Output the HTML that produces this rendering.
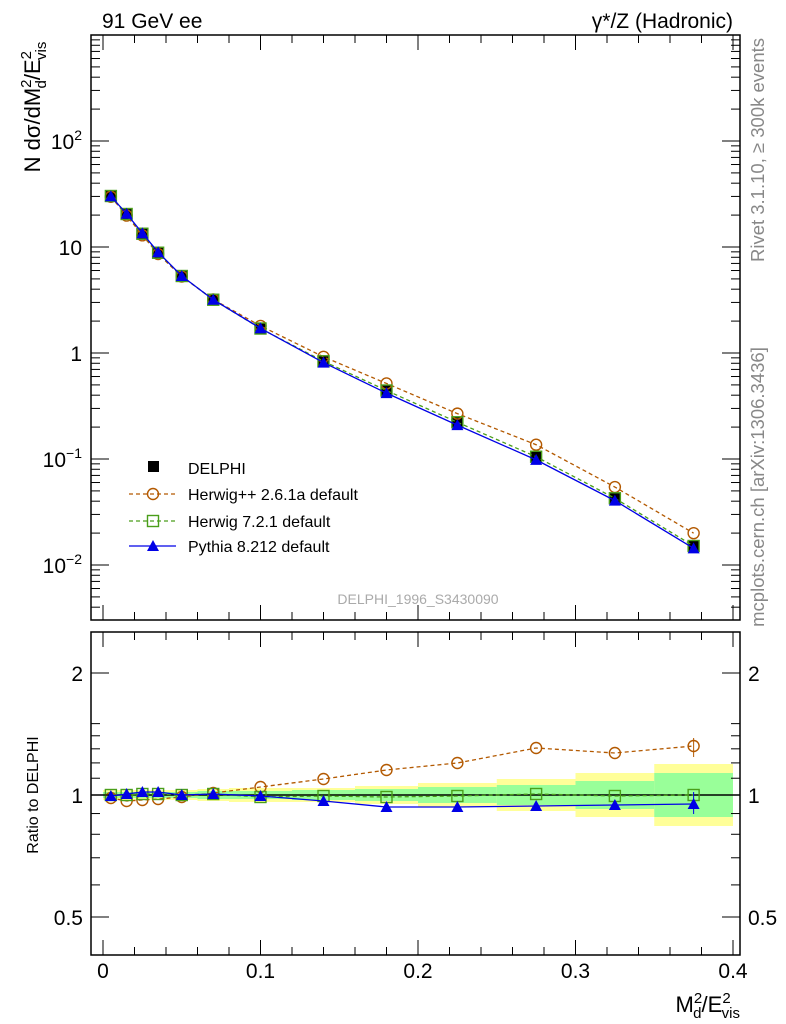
<!DOCTYPE html>
<html><head><meta charset="utf-8"><style>
body{margin:0;background:#fff}
svg{display:block;font-family:"Liberation Sans",sans-serif}
</style></head><body>
<svg id="s" width="786" height="1024" xmlns="http://www.w3.org/2000/svg"></svg>
<script>
const S=document.getElementById('s');let h='';
const L=91,R=740,T=35,B=620,RT=632,RB=955;
const X=v=>103+v*1575;
const YL=v=>353-Math.log10(v)*106;
const YR=r=>795-Math.log2(r)*122;
const bins=[[0,0.01,5,3],[0.01,0.02,5,3],[0.02,0.03,5,3],[0.03,0.04,5,3],[0.04,0.06,5,3],[0.06,0.08,6,4],[0.08,0.12,7,4],[0.12,0.16,7,5],[0.16,0.2,9,6],[0.2,0.25,12,8],[0.25,0.3,16,10],[0.3,0.35,22,14],[0.35,0.4,31,22]];
bins.forEach(b=>{h+=`<rect x="${X(b[0])}" y="${795-b[2]}" width="${X(b[1])-X(b[0])}" height="${2*b[2]}" fill="#ffff99"/>`;});
bins.forEach(b=>{h+=`<rect x="${X(b[0])}" y="${795-b[3]}" width="${X(b[1])-X(b[0])}" height="${2*b[3]}" fill="#99ff99"/>`;});
h+=`<line x1="${L}" y1="795" x2="${R}" y2="795" stroke="#000" stroke-width="1.5"/>`;
const xs=[0.005,0.015,0.025,0.035,0.05,0.07,0.1,0.14,0.18,0.225,0.275,0.325,0.375];
const dy=[196,214,234,253,276,300,328,361,390,422,457,498,546];
const hpp=[798,801,800,799,797,793,787,779,770,763,748,753,746];
const h7=[795,795,794,794,795,794,797,796,797,796,794,796,795];
const py=[796,794,792,792,795,794,796,801,807,807,806,805,804];
const k=0.2615;
function series(rr,col,dash,mark,main){
 let pts=xs.map((x,i)=>[X(x), main? dy[i]+(rr[i]-795)*k : rr[i]]);
 h+=`<polyline points="${pts.map(p=>p.join(',')).join(' ')}" fill="none" stroke="${col}" stroke-width="1.3" ${dash?'stroke-dasharray="4,3"':''}/>`;
 pts.forEach(p=>{h+=mark(p[0],p[1]);});
}
const circ=(c)=>(x,y)=>`<circle cx="${x}" cy="${y}" r="5.5" fill="none" stroke="${c}" stroke-width="1.4"/>`;
const sq=(c)=>(x,y)=>`<rect x="${x-5.5}" y="${y-5.5}" width="11" height="11" fill="none" stroke="${c}" stroke-width="1.4"/>`;
const tri=(c)=>(x,y)=>`<polygon points="${x},${y-6} ${x-6},${y+5} ${x+6},${y+5}" fill="${c}"/>`;
xs.forEach((x,i)=>{h+=`<rect x="${X(x)-5.5}" y="${dy[i]-5.5}" width="11" height="11" fill="#000"/>`;});
series(hpp,'#b35900',1,circ('#b35900'),1);
series(h7,'#4a9e1a',1,sq('#4a9e1a'),1);
series(py,'#0000e6',0,tri('#0000e6'),1);
series(hpp,'#b35900',1,circ('#b35900'),0);
series(h7,'#4a9e1a',1,sq('#4a9e1a'),0);
series(py,'#0000e6',0,tri('#0000e6'),0);
h+=`<line x1="${X(0.375)}" y1="738" x2="${X(0.375)}" y2="757" stroke="#b35900"/><line x1="${X(0.375)}" y1="792" x2="${X(0.375)}" y2="814" stroke="#0000e6"/>`;
h+=`<rect x="${L}" y="${T}" width="${R-L}" height="${B-T}" fill="none" stroke="#000" stroke-width="1.5"/>`;
h+=`<rect x="${L}" y="${RT}" width="${R-L}" height="${RB-RT}" fill="none" stroke="#000" stroke-width="1.5"/>`;
for(let i=0;i<=20;i++){let v=i*0.02;let x=X(v);if(x>R)break;let mj=(i%5==0);let l=mj?15:8;
 [[T,1],[B,-1],[RT,1],[RB,-1]].forEach(([y,d])=>{h+=`<line x1="${x}" y1="${y}" x2="${x}" y2="${y+d*l}" stroke="#000"/>`;});
 if(mj)h+=`<text x="${x}" y="978" font-size="21" text-anchor="middle">${[0,0.1,0.2,0.3,0.4][i/5]}</text>`;}
for(let e=-3;e<=2;e++)for(let m=1;m<10;m++){let y=YL(m*Math.pow(10,e));if(y<T||y>B)continue;let l=m==1?18:9;
 h+=`<line x1="${L}" y1="${y}" x2="${L+l}" y2="${y}" stroke="#000"/><line x1="${R}" y1="${y}" x2="${R-l}" y2="${y}" stroke="#000"/>`;}
[[2,'10<tspan dy="-9" font-size="14">2</tspan>'],[1,'10'],[0,'1'],[-1,'10<tspan dy="-9" font-size="14">−1</tspan>'],[-2,'10<tspan dy="-9" font-size="14">−2</tspan>']].forEach(([e,t])=>{
 h+=`<text x="82" y="${353-e*106+8}" font-size="21" text-anchor="end">${t}</text>`;});
[0.5,0.6,0.7,0.8,0.9,1,1.1,1.2,1.3,1.4,1.5,2].forEach(r=>{let y=YR(r);let l=(r==0.5||r==1||r==2)?18:9;
 h+=`<line x1="${L}" y1="${y}" x2="${L+l}" y2="${y}" stroke="#000"/><line x1="${R}" y1="${y}" x2="${R-l}" y2="${y}" stroke="#000"/>`;});
[[2,'2'],[1,'1'],[0.5,'0.5']].forEach(([r,t])=>{let y=YR(r)+8;
 h+=`<text x="83" y="${y}" font-size="21" text-anchor="end">${t}</text><text x="748" y="${y}" font-size="21">${t}</text>`;});
h+=`<rect x="148" y="461" width="11" height="11" fill="#000"/><text x="188" y="474" font-size="16">DELPHI</text>`;
[[494,'#b35900',1,circ,'Herwig++ 2.6.1a default'],[521,'#4a9e1a',1,sq,'Herwig 7.2.1 default'],[546,'#0000e6',0,tri,'Pythia 8.212 default']].forEach(([y,c,d,m,t])=>{
 h+=`<line x1="129" y1="${y}" x2="176" y2="${y}" stroke="${c}" stroke-width="1.3" ${d?'stroke-dasharray="4,3"':''}/>`+m(c)(153,y)+`<text x="188" y="${y+6}" font-size="16">${t}</text>`;});
h+=`<text x="102" y="28" font-size="21">91 GeV ee</text><text x="733" y="28" font-size="21" text-anchor="end">γ*/Z (Hadronic)</text>`;
h+=`<text x="418" y="604" font-size="14" fill="#aaa" text-anchor="middle">DELPHI_1996_S3430090</text>`;
h+=`<text transform="translate(40,107) rotate(-90)" font-size="22" text-anchor="middle">N dσ/dM<tspan dy="-9" font-size="15">2</tspan><tspan dy="15" font-size="15" dx="-9">d</tspan><tspan dy="-6">/E</tspan><tspan dy="-9" font-size="15">2</tspan><tspan dy="15" font-size="15" dx="-9">vis</tspan></text>`;
h+=`<text transform="translate(38,795) rotate(-90)" font-size="16" text-anchor="middle">Ratio to DELPHI</text>`;
h+=`<text x="740" y="1012" font-size="22" text-anchor="end">M<tspan dy="-9" font-size="15">2</tspan><tspan dy="15" font-size="15" dx="-9">d</tspan><tspan dy="-6">/E</tspan><tspan dy="-9" font-size="15">2</tspan><tspan dy="15" font-size="15" dx="-9">vis</tspan></text>`;
h+=`<text transform="translate(764,150) rotate(-90)" font-size="18.5" fill="#888" text-anchor="middle">Rivet 3.1.10, ≥ 300k events</text>`;
h+=`<text transform="translate(764,487) rotate(-90)" font-size="18.5" fill="#888" text-anchor="middle">mcplots.cern.ch [arXiv:1306.3436]</text>`;
S.innerHTML=h;
</script>
</body></html>
